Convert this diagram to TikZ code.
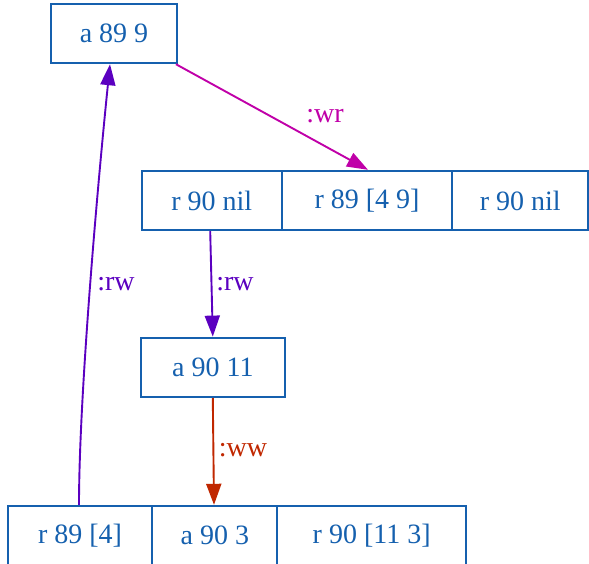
\documentclass[tikz,border=0pt]{standalone}
\usepackage{fontspec}
\setmainfont{Liberation Serif}
\usetikzlibrary{arrows.meta,calc}
\definecolor{nodeblue}{HTML}{1560AE}
\definecolor{wrcol}{HTML}{C000A8}
\definecolor{rwcol}{HTML}{5B00C0}
\definecolor{wwcol}{HTML}{C02700}
\begin{document}
\begin{tikzpicture}[x=1pt,y=-1pt,
  every node/.style={font=\fontsize{28}{31}\selectfont},
  cell/.style={draw=nodeblue, text=nodeblue, line width=1.9pt, inner sep=0pt, minimum height=59.5pt, anchor=center},
  lbl/.style={inner sep=0pt},
  edge/.style={line width=1.9pt, -{Triangle[length=21pt,width=15pt]}}]
\useasboundingbox (0,0) rectangle (589,563);
% top node
\node[cell, minimum width=126pt] (A) at (114,33.5) {a 89 9};
% top record
\node[cell, minimum width=140pt] (t1) at (211.7,200.5) {r 90 nil};
\node[cell, minimum width=170.6pt] (t2) at (367,200.5) {r 89 [4 9]};
\node[cell, minimum width=135.7pt] (t3) at (520.2,200.5) {r 90 nil};
% middle node
\node[cell, minimum width=144.3pt] (C) at (212.8,367.3) {a 90 11};
% bottom record
\node[cell, minimum width=144.6pt] (b1) at (80,535.5) {r 89 [4]};
\node[cell, minimum width=125pt] (b2) at (214.8,535.5) {a 90 3};
\node[cell, minimum width=188.7pt] (b3) at (371.7,535.5) {r 90 [11 3]};
% edges
\draw[edge, wrcol] ($(A.south east)+(-2,0)$) -- ($(t2.north)+(1,0)$);
\node[lbl, text=wrcol] (lwr) at (325,116) {:wr};
\draw[edge, rwcol] ($(t1.south)+(-1.5,0)$) -- (C.north);
\node[lbl, text=rwcol] (lrw1) at (235,284) {:rw};
\draw[edge, wwcol] (C.south) -- ($(b2.north)+(-0.8,0)$);
\node[lbl, text=wwcol] (lww) at (243,450) {:ww};
\draw[edge, rwcol] ($(b1.north)+(-1,0)$) .. controls +(0,-110) and ($(A.south)+(-16,117)$) .. ($(A.south)+(-4,0)$);
\node[lbl, text=rwcol] (lrw2) at (116,284) {:rw};
\end{tikzpicture}
\end{document}
